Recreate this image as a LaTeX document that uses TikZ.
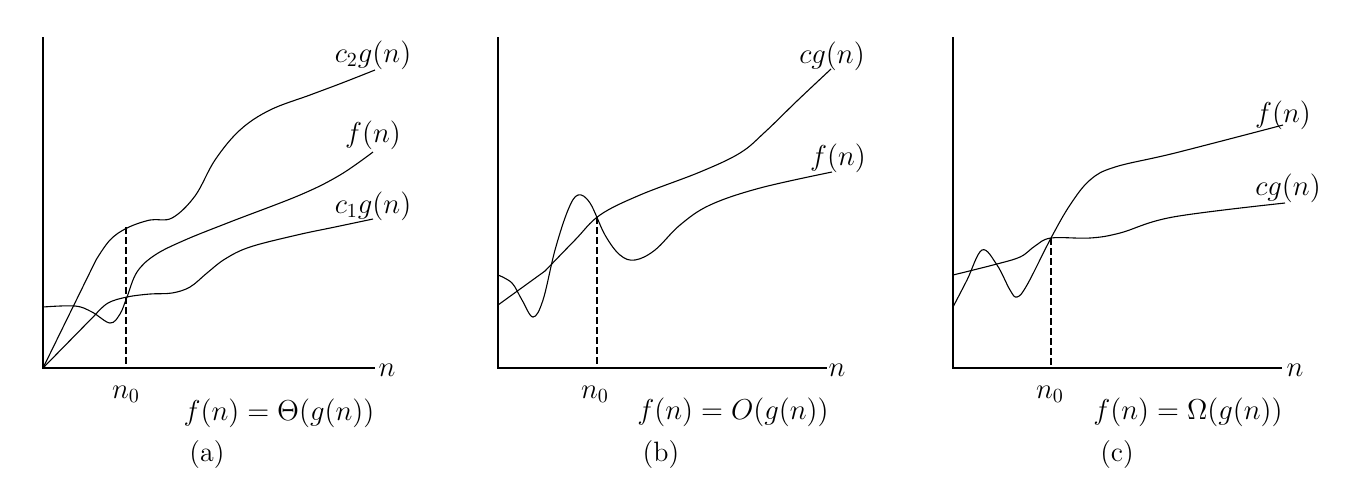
\documentclass[tikz,border=0pt]{standalone}
\begin{document}
\begin{tikzpicture}[x=0.5pt,y=-0.5pt,
  curve/.style={line width=0.55pt, line join=round},
  sm/.style={smooth, tension=0.6},
  axis/.style={line width=0.55pt},
  guide/.style={line width=0.55pt, dash pattern=on 3.5pt off 1.5pt},
  lab/.style={font=\fontsize{14}{17}\selectfont, inner sep=0pt}]
\useasboundingbox (0,0) rectangle (1352,500);

% ---------- panel (a)
\draw[axis] (43,37) -- (43,368) -- (375,368);
\node[lab] (an) at (387,370) {$n$};
\draw[guide] (126,227) -- (126,368);
\draw[curve] (43,368) -- plot[sm] coordinates {(96,260) (110,240) (127,228) (150,220) (172,218) (195,196) (215,160) (240,130) (270,110) (310,95) (342,83) (375,70)};
\draw[curve] plot[sm] coordinates {(43,307) (75,306) (92,312) (110,323) (120,314) (127,297) (137,272) (155,255) (185,240) (230,222) (300,195) (340,175) (373,152)};
\draw[curve] (43,368) -- plot[sm] coordinates {(95,315) (108,303) (127,297) (150,294) (172,293) (190,287) (207,273) (225,259) (250,247) (297,235) (335,227) (373,219)};
\node[lab] (ac2) at (373,55) {$c_2g(n)$};
\node[lab] (af) at (373,135) {$f(n)$};
\node[lab] (ac1) at (373,206) {$c_1g(n)$};
\node[lab, anchor=base] (an0) at (126,398) {$n_0$};
\node[lab] (aeq) at (279,413) {$f(n) = \Theta(g(n))$};
\node[lab] (acap) at (207,454) {(a)};

% ---------- panel (b)
\draw[axis] (498,37) -- (498,368) -- (827,368);
\node[lab] (bn) at (837,370) {$n$};
\draw[guide] (597,217) -- (597,364);
\draw[curve] (498,305) -- plot[sm] coordinates {(545,271) (575,240) (600,215) (640,195) (700,172) (740,153) (765,132) (798,100) (831,69)};
\draw[curve] plot[sm] coordinates {(498,275) (512,283) (522,300) (533,317) (543,300) (555,250) (568,210) (578,195) (590,203) (605,235) (620,255) (635,260) (655,250) (680,225) (710,205) (760,188) (832,172)};
\node[lab] (bcg) at (832,56) {$cg(n)$};
\node[lab] (bf) at (838,158) {$f(n)$};
\node[lab, anchor=base] (bn0) at (595,398) {$n_0$};
\node[lab] (beq) at (733,412) {$f(n) = O(g(n))$};
\node[lab] (bcap) at (661,454) {(b)};

% ---------- panel (c)
\draw[axis] (953,37) -- (953,368) -- (1282,368);
\node[lab] (cn) at (1295,370) {$n$};
\draw[guide] (1051,238) -- (1051,368);
\draw[curve] plot[sm] coordinates {(953,307) (967,280) (982,250) (997,265) (1010,290) (1017,297) (1027,285) (1051,238) (1070,205) (1090,180) (1115,167) (1175,153) (1283,125)};
\draw[curve] plot[sm] coordinates {(953,275) (993,265) (1020,257) (1035,246) (1051,238) (1090,238) (1120,233) (1173,217) (1285,203)};
\node[lab] (cf) at (1283,115) {$f(n)$};
\node[lab] (ccg) at (1288,188) {$cg(n)$};
\node[lab, anchor=base] (cn0) at (1050,398) {$n_0$};
\node[lab] (ceq) at (1188,412) {$f(n) = \Omega(g(n))$};
\node[lab] (ccap) at (1117,454) {(c)};
\end{tikzpicture}
\end{document}
